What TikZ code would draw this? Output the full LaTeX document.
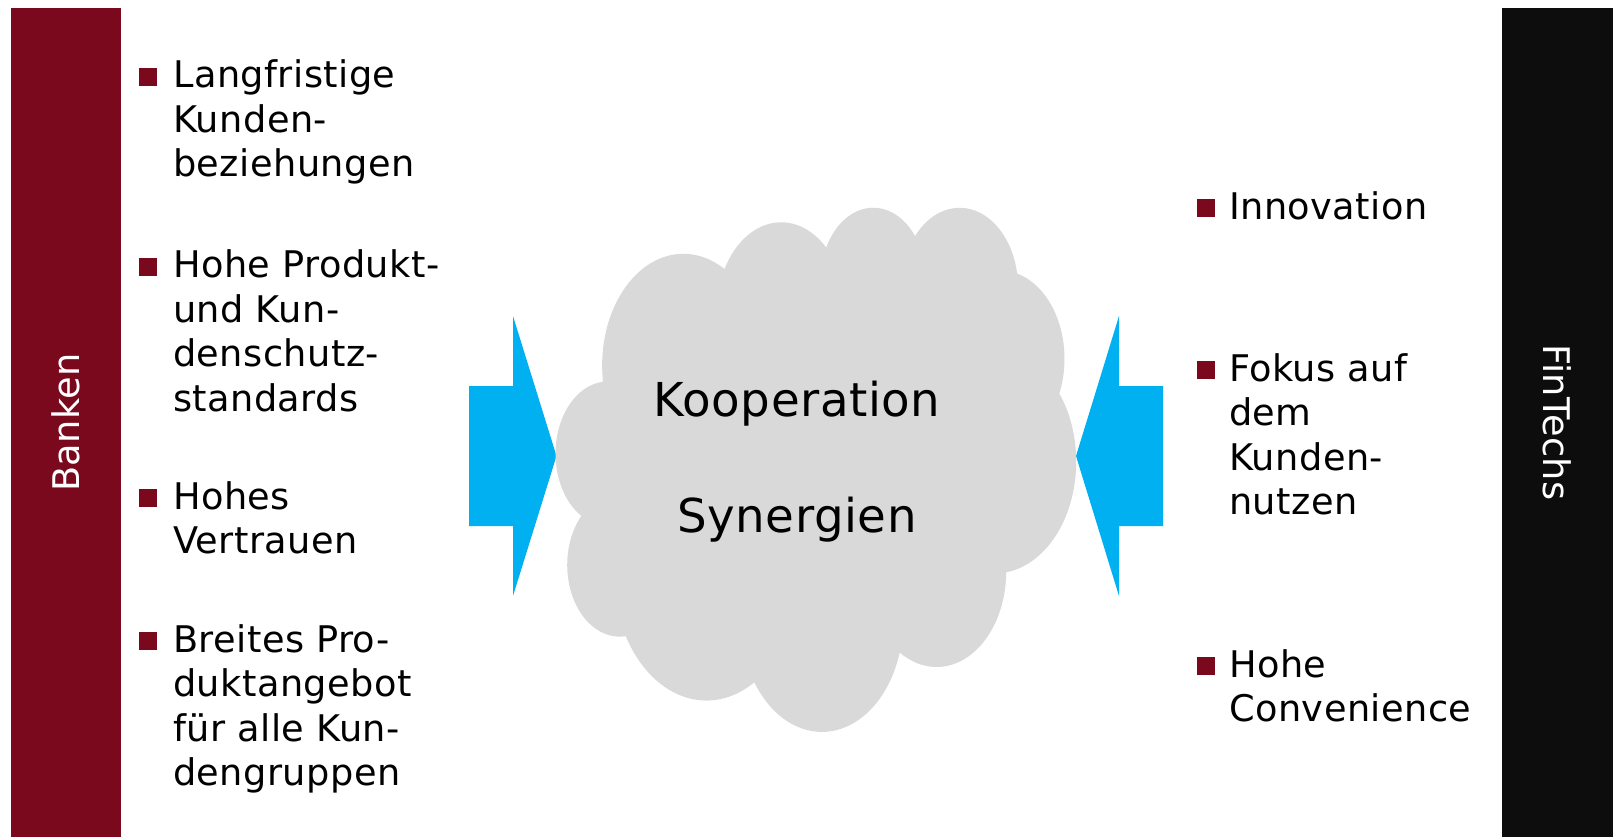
\documentclass[tikz,border=0pt]{standalone}
\usepackage{fontspec}
\setmainfont[LetterSpace=1.2]{DejaVu Sans}
\definecolor{bankred}{RGB}{122,9,29}
\definecolor{finblack}{RGB}{13,13,13}
\definecolor{arrowcyan}{RGB}{0,176,240}
\definecolor{cloudgray}{RGB}{217,217,217}
\newcommand{\mlines}[1]{\begin{tabular}[t]{@{}l@{}}#1\end{tabular}}
\begin{document}
\begin{tikzpicture}[x=1pt,y=-1pt,
  bodytext/.style={font=\fontsize{36.7}{44.5}\selectfont, inner sep=0pt, anchor=base west, text=black},
  bartext/.style={font=\fontsize{36.7}{44.5}\selectfont, inner sep=0pt, text=white},
  cloudtext/.style={font=\fontsize{46.7}{56}\selectfont, inner sep=0pt, anchor=base, text=black},
  bulletsq/.style={fill=bankred, minimum size=18pt, inner sep=0pt, outer sep=0pt},
  bigarrow/.style={fill=arrowcyan, draw=none},
  cloudshape/.style={fill=cloudgray, draw=none}]
\useasboundingbox[fill=white] (0,0) rectangle (1613,837);
% side bars
\fill[bankred] (11,8) rectangle (121,837);
\fill[finblack] (1502,8) rectangle (1613,837);
\node[bartext, rotate=90] (banken) at (66,422.5) {Banken};
\node[bartext, rotate=-90] (fintechs) at (1557.5,422.5) {FinTechs};
% arrows
\fill[bigarrow] (469,386) -- (513,386) -- (513,316) -- (556.5,456) -- (513,596) -- (513,526) -- (469,526) -- cycle;
\fill[bigarrow] (1163,386) -- (1119,386) -- (1119,316) -- (1076,456) -- (1119,596) -- (1119,526) -- (1163,526) -- cycle;
% cloud
\fill[cloudshape] (602.9,380.3)
  arc[start angle=187.75, end angle=59.64, x radius=81.29pt, y radius=111.47pt]
  arc[start angle=152.02, end angle=45.44, x radius=64.19pt, y radius=88.15pt]
  arc[start angle=153.49, end angle=37.35, x radius=52.54pt, y radius=72.11pt]
  arc[start angle=139.72, end angle=10.22, x radius=58.46pt, y radius=80.0pt]
  arc[start angle=74.77, end angle=-23.21, x radius=64.19pt, y radius=88.22pt]
  arc[start angle=37.54, end angle=-81.86, x radius=81.55pt, y radius=111.83pt]
  arc[start angle=-0.46, end angle=-121.98, x radius=69.63pt, y radius=95.42pt]
  arc[start angle=-16.84, end angle=-146.23, x radius=81.27pt, y radius=111.77pt]
  arc[start angle=-58.98, end angle=-150.21, x radius=92.93pt, y radius=127.88pt]
  arc[start angle=-83.31, end angle=-223.11, x radius=52.48pt, y radius=71.78pt]
  arc[start angle=-120.35, end angle=-264.11, x radius=52.30pt, y radius=72.11pt]
  -- cycle;
\node[cloudtext] (koop) at (797,416) {Kooperation};
\node[cloudtext] (syn) at (797,532) {Synergien};
% left bullets
\node[bulletsq] (lb1) at (148,77) {};
\node[bodytext] (lt1) at (173,88) {\mlines{Langfristige\\Kunden-\\beziehungen}};
\node[bulletsq] (lb2) at (148,266.5) {};
\node[bodytext] (lt2) at (173,277.5) {\mlines{Hohe Produkt-\\und Kun-\\denschutz-\\standards}};
\node[bulletsq] (lb3) at (148,498) {};
\node[bodytext] (lt3) at (173,509) {\mlines{Hohes\\Vertrauen}};
\node[bulletsq] (lb4) at (148,641) {};
\node[bodytext] (lt4) at (173,652) {\mlines{Breites Pro-\\duktangebot\\für alle Kun-\\dengruppen}};
% right bullets
\node[bulletsq] (rb1) at (1205.5,208) {};
\node[bodytext] (rt1) at (1229,219) {\mlines{Innovation}};
\node[bulletsq] (rb2) at (1205.5,370) {};
\node[bodytext] (rt2) at (1229,381) {\mlines{Fokus auf\\dem\\Kunden-\\nutzen}};
\node[bulletsq] (rb3) at (1205.5,666) {};
\node[bodytext] (rt3) at (1229,677) {\mlines{Hohe\\Convenience}};
\end{tikzpicture}
\end{document}
